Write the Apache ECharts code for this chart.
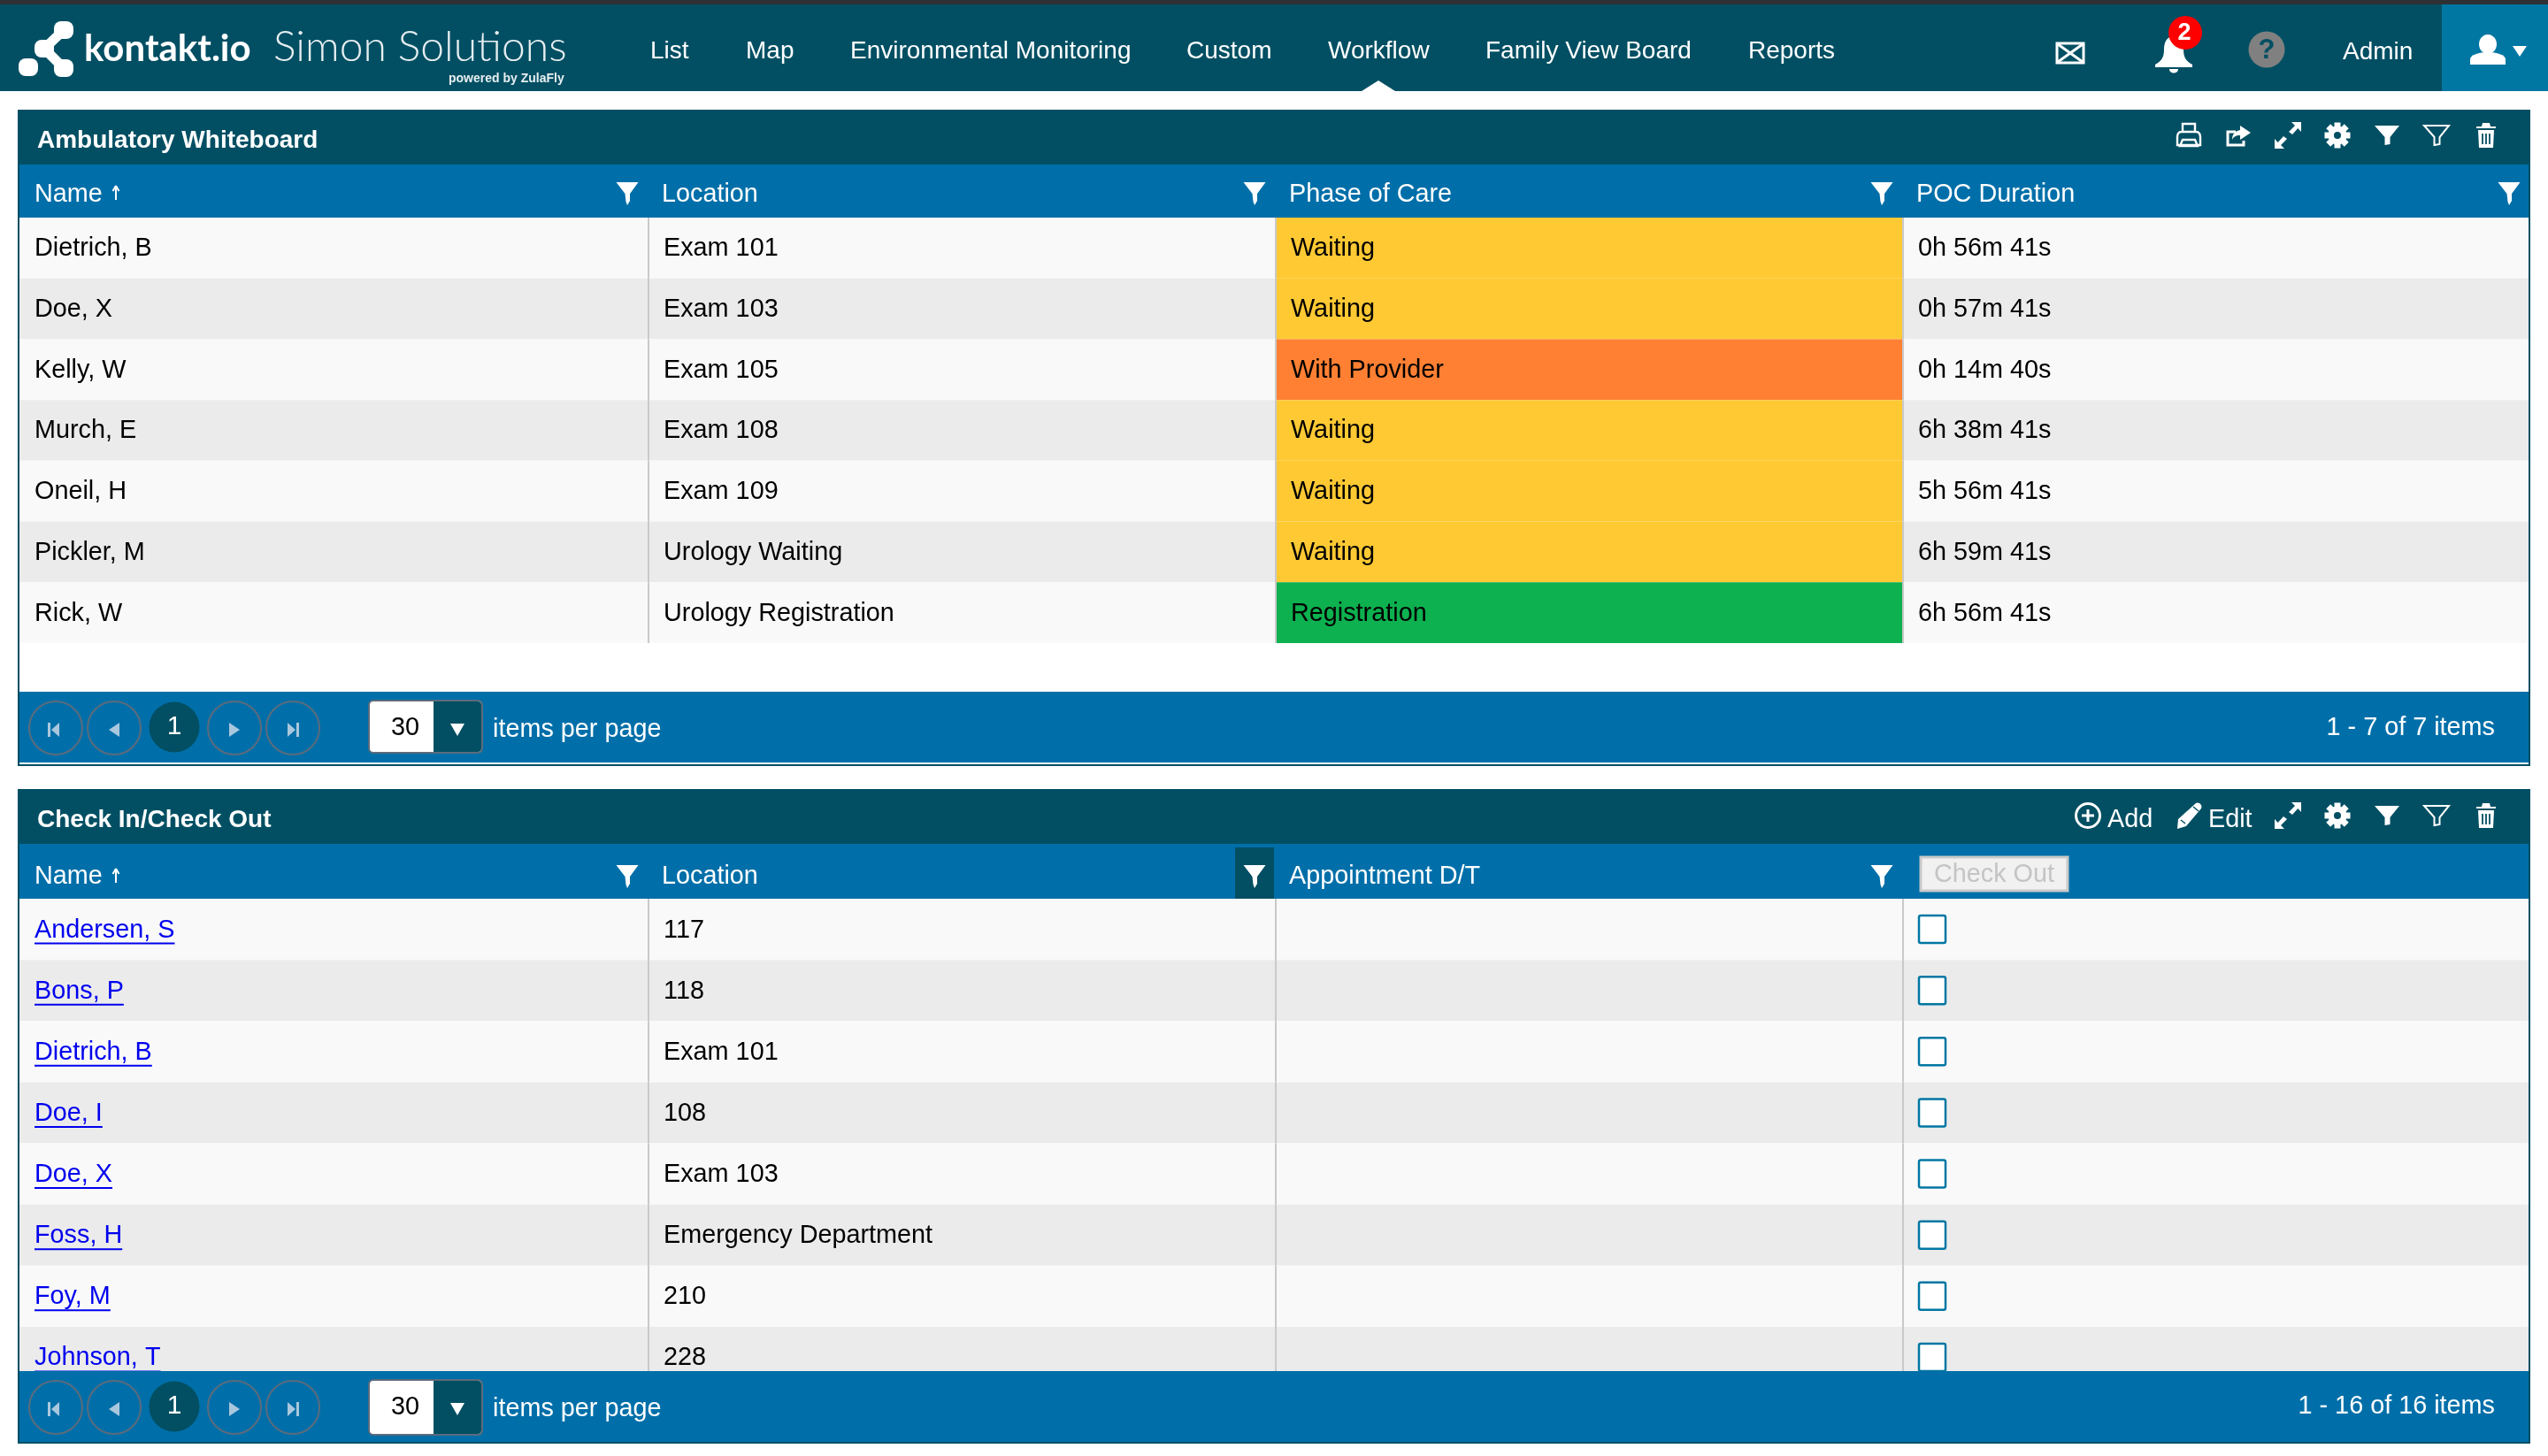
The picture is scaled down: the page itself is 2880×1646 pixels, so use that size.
<!DOCTYPE html>
<html><head><meta charset="utf-8">
<style>html,body{margin:0;padding:0;background:#fff}#c{width:2880px;height:1646px}</style>
<script src="https://cdn.jsdelivr.net/npm/echarts@6/dist/echarts.min.js"></script>
</head><body><div id="c"></div>
<script>
const navItems = ['List','Map','Environmental Monitoring','Custom','Workflow','Family View Board','Reports'];
const wbColumns = ['Name','Location','Phase of Care','POC Duration'];
const wbNames = ['Dietrich, B','Doe, X','Kelly, W','Murch, E','Oneil, H','Pickler, M','Rick, W'];
const wbLocations = ['Exam 101','Exam 103','Exam 105','Exam 108','Exam 109','Urology Waiting','Urology Registration'];
const wbPhases = ['Waiting','Waiting','With Provider','Waiting','Waiting','Waiting','Registration'];
const wbDurations = ['0h 56m 41s','0h 57m 41s','0h 14m 40s','6h 38m 41s','5h 56m 41s','6h 59m 41s','6h 56m 41s'];
const ciColumns = ['Name','Location','Appointment D/T',''];
const ciNames = ['Andersen, S','Bons, P','Dietrich, B','Doe, I','Doe, X','Foss, H','Foy, M','Johnson, T'];
const ciLocations = ['117','118','Exam 101','108','Exam 103','Emergency Department','210','228'];
const ciAppointments = ['','','','','','','',''];
const phaseColors = {'Waiting':'#FFC933','With Provider':'#FF8033','Registration':'#0DB14F'};

const TEAL='#024F63', BLUE='#006FA9', BODY="28.8px 'Liberation Sans'", WHITE='#fff';
const measure = document.createElement('canvas').getContext('2d');
const els = [];
const shapeNames = {};
function pathType(d){
  if(!shapeNames[d]){
    const name='icon'+Object.keys(shapeNames).length;
    echarts.graphic.registerShape(name,echarts.graphic.extendPath(d,{}));
    shapeNames[d]=name;
  }
  return shapeNames[d];
}
const R=(x,y,w,h,fill,extra)=>els.push(Object.assign({type:'rect',shape:{x,y,width:w,height:h},style:{fill}},extra||{}));
const T=(text,x,y,o)=>{o=o||{};els.push({type:'text',style:{text,x,y,fill:o.fill||WHITE,font:o.font||BODY,textAlign:o.align||'left',textVerticalAlign:'middle'}});};
const P=(d,x,y,o)=>{o=o||{};els.push({type:pathType(d),x,y,shape:{},style:{fill:o.fill===undefined?WHITE:o.fill,stroke:o.stroke||null,lineWidth:o.lw||0,lineJoin:'miter'}});};
const C=(cx,cy,r,fill,stroke,lw)=>els.push({type:'circle',shape:{cx,cy,r},style:{fill:fill||null,stroke:stroke||null,lineWidth:lw||0}});

// ---- top bar
R(0,0,2880,5,'#2E3033');
R(0,5,2880,98,TEAL);
R(2760,5,120,98,'#0077A3');
const navX=[735,843,961,1341,1501,1679,1976];
navItems.forEach((n,i)=>T(n,navX[i],58,{font:"28px 'Liberation Sans'"}));
P('M-19,11 L0,-1 L19,11 Z',1558,92);
// logo
const logo=[[72,34],[50,55],[72,77],[32,76]];
els.push({type:'polyline',shape:{points:[logo[0],logo[1],logo[2]]},style:{stroke:WHITE,lineWidth:11,fill:null}});
logo.forEach(p=>{els.push({type:'rect',shape:{x:p[0]-11,y:p[1]-10,width:22,height:20,r:8},style:{fill:WHITE}});});
T('kontakt.io',95,55,{font:"bold 42px 'Lato'"});
T('Simon Solutions',309,54,{font:"300 48px 'Lato'",fill:'#E6EEF1'});
T('powered by ZulaFly',507,89,{font:"bold 14px 'Liberation Sans'",fill:'#E6EEF1'});
// mail
P('M-15,-11 L15,-11 L15,11 L-15,11 Z',2340,60,{fill:null,stroke:WHITE,lw:3});
P('M-14,-10 L14,10 M14,-10 L-14,10',2340,60,{fill:null,stroke:WHITE,lw:3});
// bell
P('M0,-19 C8,-19 11,-12 11,-4 C11,5 14,9 21,13 L21,16 L-21,16 L-21,13 C-14,9 -11,5 -11,-4 C-11,-12 -8,-19 0,-19 Z M-5,18 L5,18 C5,24 -5,24 -5,18 Z',2457,60);
els.push({type:'ellipse',shape:{cx:2470,cy:37,rx:19,ry:19},style:{fill:'#FF0000'}});
T('2',2469,38,{font:"bold 27px 'Liberation Sans'",align:'center'});
C(2562,56,20.5,'#808080');
T('?',2562,57,{font:"bold 31px 'Liberation Sans'",fill:TEAL,align:'center'});
T('Admin',2648,59,{font:"28px 'Liberation Sans'"});
els.push({type:'ellipse',shape:{cx:2812,cy:50,rx:10,ry:11},style:{fill:WHITE}});
P('M-20,23 L-20,17 C-20,12 -10,9 0,9 C10,9 20,12 20,17 L20,23 Z',2812,50);
P('M-8,-6 L8,-6 L0,6 Z',2848,58);

// ---- icon drawings
const filterD='M-14,-11 L14,-11 L3.5,2 L3.5,10 L-2.5,11 L-2.5,2 Z';
const hFilterD='M-12.5,-12 L12.5,-12 L3,1 L3,9 L0,14 L-1.5,10 L-2.5,1 Z';
const expandD='M4,-15 L15,-15 L15,-4 L11.3,-8 L5,-1 L1,-4 L8,-11 Z M-4,15 L-15,15 L-15,4 L-11.3,8 L-5,1 L-1,4 L-8,11 Z';
function gear(x,y){
  C(x,y,10.5,WHITE);
  for(let i=0;i<8;i++){els.push({type:'rect',x,y,rotation:i*Math.PI/4,shape:{x:-3.5,y:-14.5,width:7,height:6},style:{fill:WHITE}});}
  C(x,y,4,TEAL);
}
function trash(x,y){
  P('M-11,-8 L11,-8 L11,-10 L5,-10 L4,-14 L-4,-14 L-5,-10 L-11,-10 Z',x,y);
  P('M-9,-6 L9,-6 L8,14 L-8,14 Z',x,y);
  P('M-4,-2 L-4,10 M0,-2 L0,10 M4,-2 L4,10',x,y,{fill:null,stroke:TEAL,lw:1.8});
}
function toolbar(y){
  P(expandD,2586,y); gear(2642,y); P(filterD,2698,y);
  P(filterD,2754,y,{fill:null,stroke:WHITE,lw:2}); trash(2810,y);
}
function pager(cy,selTop,selBottom){
  [63,129,265,331].forEach(x=>C(x,cy,30,null,'#5C6B7C',2));
  C(197,cy-1,28.5,TEAL);
  T('1',197,cy-1,{font:"30px 'Liberation Sans'",align:'center'});
  const a='#A9C7DD';
  P('M-7,-8 L-4,-8 L-4,8 L-7,8 Z M6,-8 L6,8 L-3,0 Z',61,cy+2,{fill:a});
  P('M6,-8 L6,8 L-6,0 Z',129,cy+2,{fill:a});
  P('M-6,-8 L-6,8 L6,0 Z',265,cy+2,{fill:a});
  P('M-6,-8 L-6,8 L3,0 Z M4,-8 L7,-8 L7,8 L4,8 Z',331,cy+2,{fill:a});
  els.push({type:'rect',shape:{x:417,y:selTop,width:128,height:selBottom-selTop,r:5},style:{fill:WHITE,stroke:'#5C6B7C',lineWidth:2}});
  els.push({type:'rect',shape:{x:490,y:selTop+1,width:54,height:selBottom-selTop-2,r:[0,4,4,0]},style:{fill:TEAL}});
  T('30',458,cy,{fill:'#000',align:'center'});
  P('M-8,-6 L8,-6 L0,8 Z',517,cy+1);
  T('items per page',557,cy+2);
}
// ---- panel 1 chrome
R(20,124,2840,62,TEAL);
T('Ambulatory Whiteboard',42,159,{font:"bold 28px 'Liberation Sans'"});
// printer
P('M-7,-5 L-7,-13 L7,-13 L7,-5 M-8,-4 L8,-4 C12,-4 13,-1 13,2 L13,11 L-13,11 L-13,2 C-13,-1 -12,-4 -8,-4 Z M-7,5 L7,5 L10,12 L-10,12 Z',2474,153,{fill:null,stroke:WHITE,lw:2.4});
// share
P('M6,4 L6,9 L-12,9 L-12,-6 L-3,-6',2530,155,{fill:null,stroke:WHITE,lw:3});
P('M2,-11 L14,-3 L2,5 L2,0 C-3,0 -6,2 -7,5 C-7,-2 -3,-5 2,-6 Z',2530,153);
toolbar(153);
R(20,782,2840,80,BLUE);
R(20,864,2840,2,TEAL);
R(20,186,2,680,TEAL);
R(2858,186,2,680,TEAL);
pager(823,792,851);
T('1 - 7 of 7 items',2820,823,{align:'right'});
// header filters panel 1
[709,1418,2127,2836].forEach(x=>P(hFilterD,x,218));
P('M0,-8 L0,8 M0,-8 L-3.5,-2 M0,-8 L3.5,-2',131,218,{fill:null,stroke:WHITE,lw:2});

// ---- panel 2 chrome
R(20,892,2840,62,TEAL);
T('Check In/Check Out',42,927,{font:"bold 28px 'Liberation Sans'"});
C(2360,922,13.5,null,WHITE,3);
P('M-7,0 L7,0 M0,-7 L0,7',2360,922,{fill:null,stroke:WHITE,lw:3});
T('Add',2382,927,{});
P('M8,-14 C11,-16 16,-12 14,-8 L-3,12 L-13,15 L-12,4 Z',2474,922);
P('M5,-10 L11,-5 M-9,5 L-4,9',2474,922,{fill:null,stroke:TEAL,lw:1.5});
T('Edit',2496,927,{});
toolbar(922);
R(1396,958,44,58,TEAL);
[709,1418,2127].forEach(x=>P(hFilterD,x,990));
P('M0,-8 L0,8 M0,-8 L-3.5,-2 M0,-8 L3.5,-2',131,990,{fill:null,stroke:WHITE,lw:2});
els.push({type:'rect',shape:{x:2171,y:969,width:166,height:38},style:{fill:'#F1F1F1',stroke:'#C9C9C9',lineWidth:3}});
T('Check Out',2254,989,{fill:'#C4C4C4',align:'center'});
R(20,1550,2840,80,BLUE);
R(20,1630,2840,2,TEAL);
R(20,954,2,678,TEAL);
R(2858,954,2,678,TEAL);
pager(1591,1560,1622);
T('1 - 16 of 16 items',2820,1590,{align:'right'});
els.forEach(e=>{e.z=100;});

// ---- table rendering through category axes
function cellRenderer(getText,fillOf,kindOf){
  return function(params,api){
    const col=api.value(0), row=api.value(1);
    const c=api.coord([col,row]), s=api.size([1,1]);
    const x=c[0]-s[0]/2, y=c[1]-s[1]/2, w=s[0], h=s[1];
    const kids=[];
    const bg=fillOf(col,row)||(row%2?'#EBEBEB':'#F9F9F9');
    const ext=col===0?2:0;
    kids.push({type:'rect',shape:{x:x-ext,y,width:w+ext,height:h},style:{fill:bg}});
    if(col>0) kids.push({type:'rect',shape:{x:x-1,y,width:2,height:h},style:{fill:'#C9C9C9'}});
    const kind=kindOf(col);
    const text=getText(col,row);
    const tx=col===0?x+15:x+17;
    if(kind==='check'){
      kids.push({type:'rect',shape:{x:x+18,y:c[1]-15.5,width:30,height:31,r:2},style:{fill:WHITE,stroke:'#0077A3',lineWidth:2.5}});
    } else if(text){
      const fill=kind==='link'?'#0000EE':'#000';
      kids.push({type:'text',style:{text,x:tx,y:c[1]+1,fill,font:BODY,textAlign:'left',textVerticalAlign:'middle'}});
      if(kind==='link'){
        measure.font=BODY;
        kids.push({type:'rect',shape:{x:tx,y:c[1]+15,width:measure.measureText(text).width,height:2},style:{fill}});
      }
    }
    return {type:'group',children:kids};
  };
}
function headerRenderer(columns,bandH,textUp){
  return function(params,api){
    const col=api.value(0);
    const c=api.coord([col,0]), s=api.size([1,1]);
    const top=params.coordSys.y;
    const x=c[0]-s[0]/2, ext=col===0?4:0;
    const kids=[{type:'rect',shape:{x:x-ext,y:top-bandH,width:s[0]+ext,height:bandH},style:{fill:BLUE}}];
    kids.push({type:'text',style:{text:columns[col],x:x+15,y:top-textUp,fill:WHITE,font:BODY,textAlign:'left',textVerticalAlign:'middle'}});
    return {type:'group',children:kids};
  };
}
const cellsOf=(nC,nR)=>{const d=[];for(let r=0;r<nR;r++)for(let c=0;c<nC;c++)d.push([c,r]);return d;};
const wbCols=[wbNames,wbLocations,wbPhases,wbDurations];
const ciCols=[ciNames,ciLocations,ciAppointments];
const option={
  animation:false,
  backgroundColor:'#fff',
  grid:[
    {left:24,width:2836,top:246,height:481},
    {left:24,width:2836,top:1016,height:553}
  ],
  xAxis:[
    {gridIndex:0,type:'category',data:wbColumns,show:false},
    {gridIndex:1,type:'category',data:ciColumns,show:false}
  ],
  yAxis:[
    {gridIndex:0,type:'category',data:wbNames,inverse:true,show:false},
    {gridIndex:1,type:'category',data:ciNames,inverse:true,show:false}
  ],
  series:[
    {type:'custom',z:1,xAxisIndex:0,yAxisIndex:0,clip:false,encode:{x:0,y:1},data:cellsOf(4,7),
     renderItem:cellRenderer((c,r)=>wbCols[c][r],(c,r)=>c===2?phaseColors[wbPhases[r]]:null,()=>'text')},
    {type:'custom',z:1,xAxisIndex:1,yAxisIndex:1,clip:false,encode:{x:0,y:1},data:cellsOf(4,8),
     renderItem:cellRenderer((c,r)=>c<3?ciCols[c][r]:'',()=>null,c=>c===0?'link':(c===3?'check':'text'))},
    {type:'custom',z:1,xAxisIndex:0,yAxisIndex:0,clip:false,encode:{x:0,y:1},data:wbColumns.map((n,i)=>[i,0]),renderItem:headerRenderer(wbColumns,60,26)},
    {type:'custom',z:1,xAxisIndex:1,yAxisIndex:1,clip:false,encode:{x:0,y:1},data:ciColumns.map((n,i)=>[i,0]),renderItem:headerRenderer(ciColumns,62,25)}
  ],
  graphic:{zlevel:1,z:100,elements:els}
};
echarts.init(document.getElementById('c'),null,{renderer:'canvas',devicePixelRatio:1}).setOption(option);
</script></body></html>
